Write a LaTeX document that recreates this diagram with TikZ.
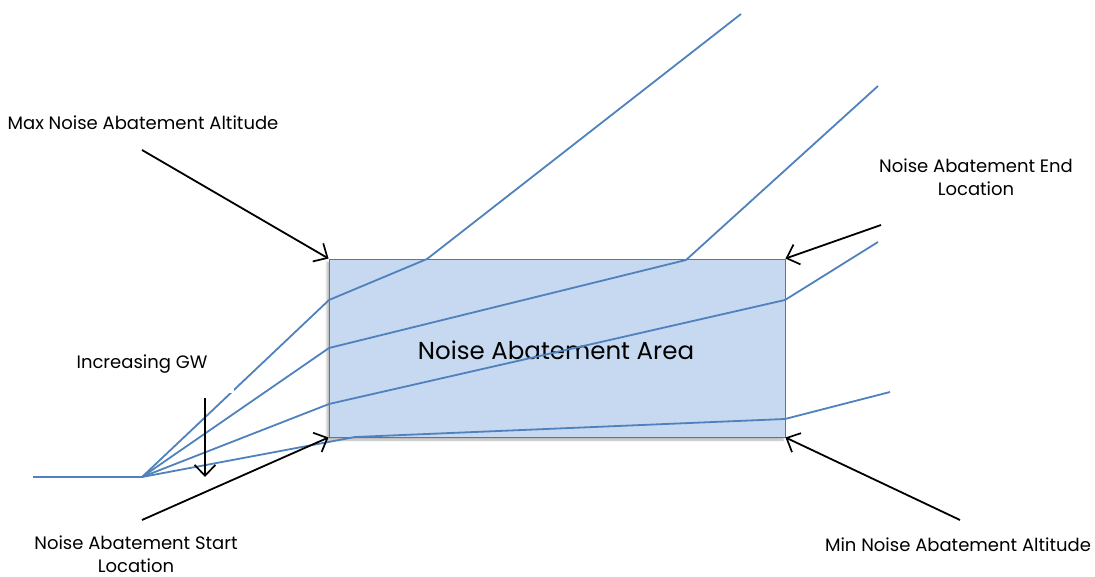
\documentclass[tikz,border=0pt]{standalone}
\usepackage{fontspec}
\setmainfont{Poppins}
\usetikzlibrary{arrows.meta,shadows.blur}
\definecolor{areafill}{HTML}{C6D9F0}
\definecolor{areadraw}{HTML}{1F3864}
\definecolor{path}{HTML}{4F81BD}
\begin{document}
\begin{tikzpicture}[x=1pt,y=-1pt,
  lbl/.style={font=\fontsize{18}{23.5}\selectfont, align=center, inner sep=0pt},
  traj/.style={draw=path, line width=1.8pt, line join=round},
  ptr/.style={draw=black, line width=1.8pt, -{Straight Barb[length=11pt,width=21pt,line width=1.7pt]}}]
\useasboundingbox (0,0) rectangle (1095,577);
% area
\node[draw=areadraw!70, fill=areafill, line width=0.9pt, minimum width=456pt, minimum height=178pt, inner sep=0pt,
  blur shadow={shadow xshift=-2pt, shadow yshift=-3pt, shadow blur steps=5, shadow opacity=30}]
  (area) at (557,348) {};
\node[font=\fontsize{24.5}{29}\selectfont] (atext) at (556,350) {Noise Abatement Area};
% trajectory points
\coordinate (s0) at (33,477);
\coordinate (s) at (142,477);
\coordinate (a1) at (329,300); \coordinate (a2) at (427,259); \coordinate (a3) at (741,14);
\coordinate (b1) at (329,348); \coordinate (b2) at (686,260); \coordinate (b3) at (878,86);
\coordinate (c1) at (329,404); \coordinate (c2) at (785,300); \coordinate (c3) at (878,242);
\coordinate (d1) at (355,437); \coordinate (d2) at (785,419); \coordinate (d3) at (890,392);
\draw[traj] (s0) -- (s);
\draw[traj] (s) -- (a1) -- (a2) -- (a3);
\draw[traj] (s) -- (b1) -- (b2) -- (b3);
\draw[traj] (s) -- (c1) -- (c2) -- (c3);
\draw[traj] (s) -- (d1) -- (d2) -- (d3);
% small gap in the steepest path
\fill[white] (229,393) rectangle (234,384);
% labels
\node[lbl] (lmax) at (143,123) {Max Noise Abatement Altitude};
\node[lbl] (lend) at (976,177) {Noise Abatement End\\Location};
\node[lbl] (lmin) at (958,545) {Min Noise Abatement Altitude};
\node[lbl] (lstart) at (136,554) {Noise Abatement Start\\Location};
\node[lbl] (lgw) at (142,364) {Increasing GW};
% pointer arrows
\coordinate (pmax) at (142,150);
\coordinate (pend) at (881,225);
\coordinate (pmin) at (960,520);
\coordinate (pstart) at (142,520);
\coordinate (gwtop) at (205,398);
\coordinate (gwbot) at (205,477);
\draw[ptr] (pmax) -- (area.north west);
\draw[ptr] (pend) -- (area.north east);
\draw[ptr] (pmin) -- (area.south east);
\draw[ptr] (pstart) -- (area.south west);
\draw[ptr] (gwtop) -- (gwbot);
\end{tikzpicture}
\end{document}
